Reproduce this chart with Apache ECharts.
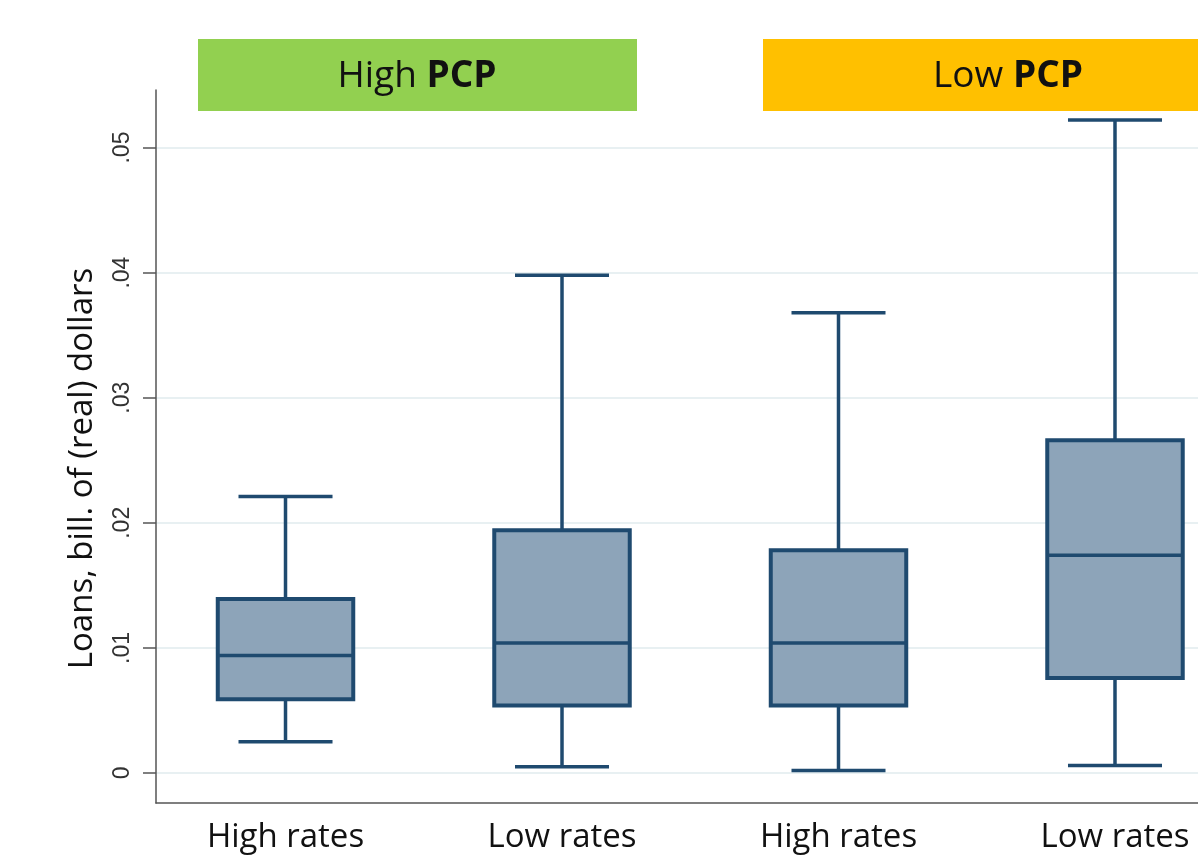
<!DOCTYPE html>
<html>
<head>
<meta charset="utf-8">
<script src="https://cdn.jsdelivr.net/npm/echarts@6/dist/echarts.min.js"></script>
<style>
html,body{margin:0;padding:0;background:#fff;}
#chart{width:1198px;height:858px;}
</style>
</head>
<body>
<div id="chart"></div>
<script>
// ---- data ----
const categories = ["High rates", "Low rates", "High rates", "Low rates"];
const positions = [1, 2, 3, 4];
const mins    = [0.0025, 0.0005, 0.0002, 0.0006];
const q1s     = [0.0059, 0.0054, 0.0054, 0.0076];
const medians = [0.0094, 0.0104, 0.0104, 0.0174];
const q3s     = [0.0139, 0.0194, 0.0178, 0.0266];
const maxs    = [0.0221, 0.0398, 0.0368, 0.0522];
const yTicks  = [0, 0.01, 0.02, 0.03, 0.04, 0.05];
const groupLabels = ["High", "Low"];

const boxData = positions.map((p, i) => [p, mins[i], q1s[i], medians[i], q3s[i], maxs[i]]);

const BOX_FRAC = 0.49, CAP_FRAC = 0.34;
const STROKE = '#1F4A6F', FILL = '#8DA4B9';

function renderItem(params, api) {
  const x = api.value(0);
  const bw = api.size([1, 0])[0];
  const half = bw * BOX_FRAC / 2, capHalf = bw * CAP_FRAC / 2;
  const pMin = api.coord([x, api.value(1)]);
  const pQ1 = api.coord([x, api.value(2)]);
  const pMed = api.coord([x, api.value(3)]);
  const pQ3 = api.coord([x, api.value(4)]);
  const pMax = api.coord([x, api.value(5)]);
  const cx = pMed[0];
  const ls = {stroke: STROKE, lineWidth: 3.5, fill: null};
  return {
    type: 'group',
    children: [
      {type: 'line', shape: {x1: cx, y1: pQ3[1], x2: cx, y2: pMax[1]}, style: ls},
      {type: 'line', shape: {x1: cx - capHalf, y1: pMax[1], x2: cx + capHalf, y2: pMax[1]}, style: ls},
      {type: 'line', shape: {x1: cx, y1: pQ1[1], x2: cx, y2: pMin[1]}, style: ls},
      {type: 'line', shape: {x1: cx - capHalf, y1: pMin[1], x2: cx + capHalf, y2: pMin[1]}, style: ls},
      {type: 'rect', shape: {x: cx - half, y: pQ3[1], width: 2 * half, height: pQ1[1] - pQ3[1]},
        style: {fill: FILL, stroke: STROKE, lineWidth: 4}},
      {type: 'line', shape: {x1: cx - half, y1: pMed[1], x2: cx + half, y2: pMed[1]}, style: {stroke: STROKE, lineWidth: 3.5}}
    ]
  };
}

const chart = echarts.init(document.getElementById('chart'), null, {renderer: 'canvas'});
const textFont = '"Open Sans", Lato, sans-serif';
const richStyle = {
  r: {fontSize: 37, fontFamily: textFont, fill: '#111'},
  b: {fontSize: 37, fontWeight: 'bold', fontFamily: textFont, fill: '#111'}
};
chart.setOption({
  animation: false,
  backgroundColor: '#ffffff',
  grid: {left: 156, right: 0, top: 90, bottom: 55, containLabel: false},
  xAxis: {
    type: 'value',
    min: 0.5316, max: 4.3002,
    axisLine: {show: true, onZero: false, lineStyle: {color: '#555', width: 1.5}},
    axisTick: {show: false},
    splitLine: {show: false},
    axisLabel: {
      customValues: positions,
      formatter: v => categories[Math.round(v) - 1] || '',
      color: '#111', fontSize: 33, fontFamily: textFont, margin: 18
    }
  },
  yAxis: {
    type: 'value',
    min: -0.0024, max: 0.0546,
    name: 'Loans, bill. of (real) dollars',
    nameLocation: 'middle',
    nameRotate: 90,
    nameGap: 57,
    nameTextStyle: {fontSize: 33, color: '#111', fontFamily: textFont, padding: [0, 44, 0, 0]},
    axisLine: {show: true, lineStyle: {color: '#555', width: 1.5}},
    axisTick: {show: true, customValues: yTicks, length: 13, lineStyle: {color: '#555', width: 1.5}},
    axisLabel: {
      customValues: yTicks,
      rotate: 90,
      margin: 22,
      fontSize: 23,
      color: '#333',
      fontFamily: '"Liberation Sans", Arial, sans-serif',
      formatter: v => v === 0 ? '0' : String(+v.toFixed(2)).replace(/^0/, '')
    },
    splitLine: {show: true, lineStyle: {color: '#E8F0F2', width: 2}}
  },
  graphic: [
    {type: 'rect', left: 198, top: 39, shape: {width: 439, height: 72}, style: {fill: '#92D050'}},
    {type: 'text', style: {
      x: 417, y: 76, align: 'center', verticalAlign: 'middle',
      text: '{r|' + groupLabels[0] + ' }{b|PCP}', rich: richStyle
    }},
    {type: 'rect', left: 763, top: 39, shape: {width: 445, height: 72}, style: {fill: '#FFC000'}},
    {type: 'text', style: {
      x: 1008, y: 76, align: 'center', verticalAlign: 'middle',
      text: '{r|' + groupLabels[1] + ' }{b|PCP}', rich: richStyle
    }}
  ],
  series: [{
    type: 'custom',
    renderItem: renderItem,
    encode: {x: 0, y: [1, 2, 3, 4, 5]},
    data: boxData,
    clip: false
  }]
});
</script>
</body>
</html>
